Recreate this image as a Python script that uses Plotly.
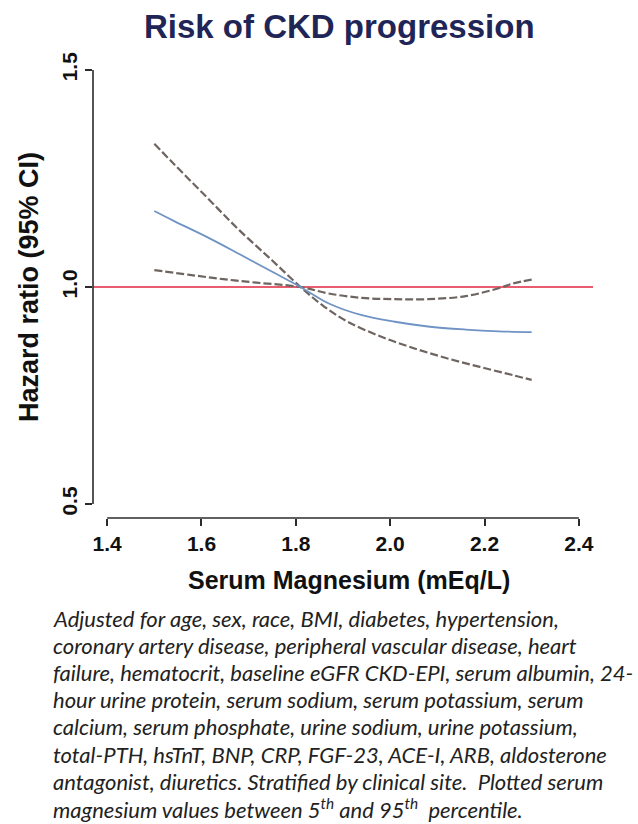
import plotly.graph_objects as go

# ---- data ----
mg_hr = [1.50, 1.54, 1.61, 1.68, 1.75, 1.81, 1.87, 1.94, 2.01, 2.08, 2.16, 2.23, 2.30]
hr = [1.175, 1.153, 1.116, 1.076, 1.035, 1.000, 0.962, 0.935, 0.920, 0.909, 0.902, 0.898, 0.896]

mg_ci_a = [1.50, 1.54, 1.61, 1.68, 1.75, 1.81, 1.86, 1.91, 1.98, 2.05, 2.12, 2.19, 2.26, 2.30]
ci_a = [1.330, 1.285, 1.208, 1.131, 1.061, 1.000, 0.955, 0.920, 0.886, 0.859, 0.836, 0.816, 0.797, 0.786]

mg_ci_b = [1.50, 1.575, 1.646, 1.717, 1.81, 1.87, 1.94, 2.01, 2.08, 2.16, 2.23, 2.26, 2.30]
ci_b = [1.039, 1.028, 1.018, 1.010, 1.000, 0.985, 0.975, 0.972, 0.972, 0.979, 0.997, 1.008, 1.017]

ref_hr = 1.0
x_ticks = [1.4, 1.6, 1.8, 2.0, 2.2, 2.4]
x_ticklabels = ["1.4", "1.6", "1.8", "2.0", "2.2", "2.4"]
y_ticks = [0.5, 1.0, 1.5]
y_ticklabels = ["0.5", "1.0", "1.5"]

title = "Risk of CKD progression"
x_title = "Serum Magnesium (mEq/L)"
y_title = "Hazard ratio (95% CI)"
footnote_lines = [
    "Adjusted for age, sex, race, BMI, diabetes, hypertension,",
    "coronary artery disease, peripheral vascular disease, heart",
    "failure, hematocrit, baseline eGFR CKD-EPI, serum albumin, 24-",
    "hour urine protein, serum sodium, serum potassium, serum",
    "calcium, serum phosphate, urine sodium, urine potassium,",
    "total-PTH, hsTnT, BNP, CRP, FGF-23, ACE-I, ARB, aldosterone",
    "antagonist, diuretics. Stratified by clinical site.  Plotted serum",
    "magnesium values between 5<sup>th</sup> and 95<sup>th</sup>  percentile.",
]

# ---- layout geometry ----
W, H = 638, 824
L, R, T, B = 93, 45, 56, 306
plot_w = W - L - R
plot_h = H - T - B


def px_x(p):
    return (p - L) / plot_w


def px_y(p):
    return (H - B - p) / plot_h


fig = go.Figure()

axis_col = "#2b2b2b"
dash_col = "#6e6561"

fig.add_hline(y=ref_hr, line=dict(color="#e0263c", width=1.6), layer="below")

fig.add_trace(go.Scatter(x=mg_ci_a, y=ci_a, mode="lines", line=dict(color=dash_col, width=2.2, dash="8px,3px", shape="spline")))
fig.add_trace(go.Scatter(x=mg_ci_b, y=ci_b, mode="lines", line=dict(color=dash_col, width=2.2, dash="8px,3px", shape="spline")))
fig.add_trace(go.Scatter(x=mg_hr, y=hr, mode="lines", line=dict(color="#6f93c4", width=1.8, shape="spline")))

# R-style detached axis lines spanning the tick range
fig.add_shape(type="line", xref="x", yref="paper", x0=x_ticks[0], x1=x_ticks[-1], y0=0, y1=0,
              line=dict(color=axis_col, width=1.6))
fig.add_shape(type="line", xref="paper", yref="y", x0=0, x1=0, y0=y_ticks[0], y1=y_ticks[-1],
              line=dict(color=axis_col, width=1.6))

tickfont = dict(family="Liberation Sans, Arial", size=21, color="#111111", weight="bold")

fig.update_xaxes(range=[1.37, 2.43], tickvals=x_ticks, ticktext=x_ticklabels, ticks="outside",
                 ticklen=7, tickwidth=1.5, tickcolor=axis_col, showline=False, showgrid=False,
                 zeroline=False, tickfont=tickfont, automargin=False)
fig.update_yaxes(range=[0.468, 1.532], tickvals=y_ticks, ticktext=y_ticklabels, ticks="outside",
                 ticklen=7, tickwidth=1.5, tickcolor=axis_col, showline=False, showgrid=False,
                 zeroline=False, tickfont=tickfont, tickangle=-90, automargin=False)

annotations = [
    dict(text=title, x=px_x(339), y=px_y(27), xref="paper", yref="paper", showarrow=False,
         xanchor="center", yanchor="middle",
         font=dict(family="Liberation Sans, Arial", size=33, color="#1f2657", weight="bold")),
    dict(text=x_title, x=px_x(349), y=px_y(580), xref="paper", yref="paper", showarrow=False,
         xanchor="center", yanchor="middle",
         font=dict(family="Liberation Sans, Arial", size=25, color="#111111", weight="bold")),
    dict(text=y_title, x=px_x(28.5), y=px_y(287.5), xref="paper", yref="paper", showarrow=False,
         xanchor="center", yanchor="middle", textangle=-90,
         font=dict(family="Liberation Sans, Arial", size=27, color="#111111", weight="bold")),
]
for i, line in enumerate(footnote_lines):
    baseline = 625 + 27.2 * i
    annotations.append(dict(text=line, x=px_x(51), y=px_y(baseline - 7), xref="paper", yref="paper",
                            showarrow=False, xanchor="left", yanchor="middle", align="left",
                            font=dict(family="Lato, Open Sans", size=22, color="#222222", style="italic")))

fig.update_layout(width=W, height=H, margin=dict(l=L, r=R, t=T, b=B, pad=0),
                  paper_bgcolor="white", plot_bgcolor="white", showlegend=False,
                  annotations=annotations)

fig.write_html("out.html", config={"displayModeBar": False},
               post_script="document.body.style.margin='0';document.body.style.padding='0';"
                           "document.body.style.overflow='hidden';")
